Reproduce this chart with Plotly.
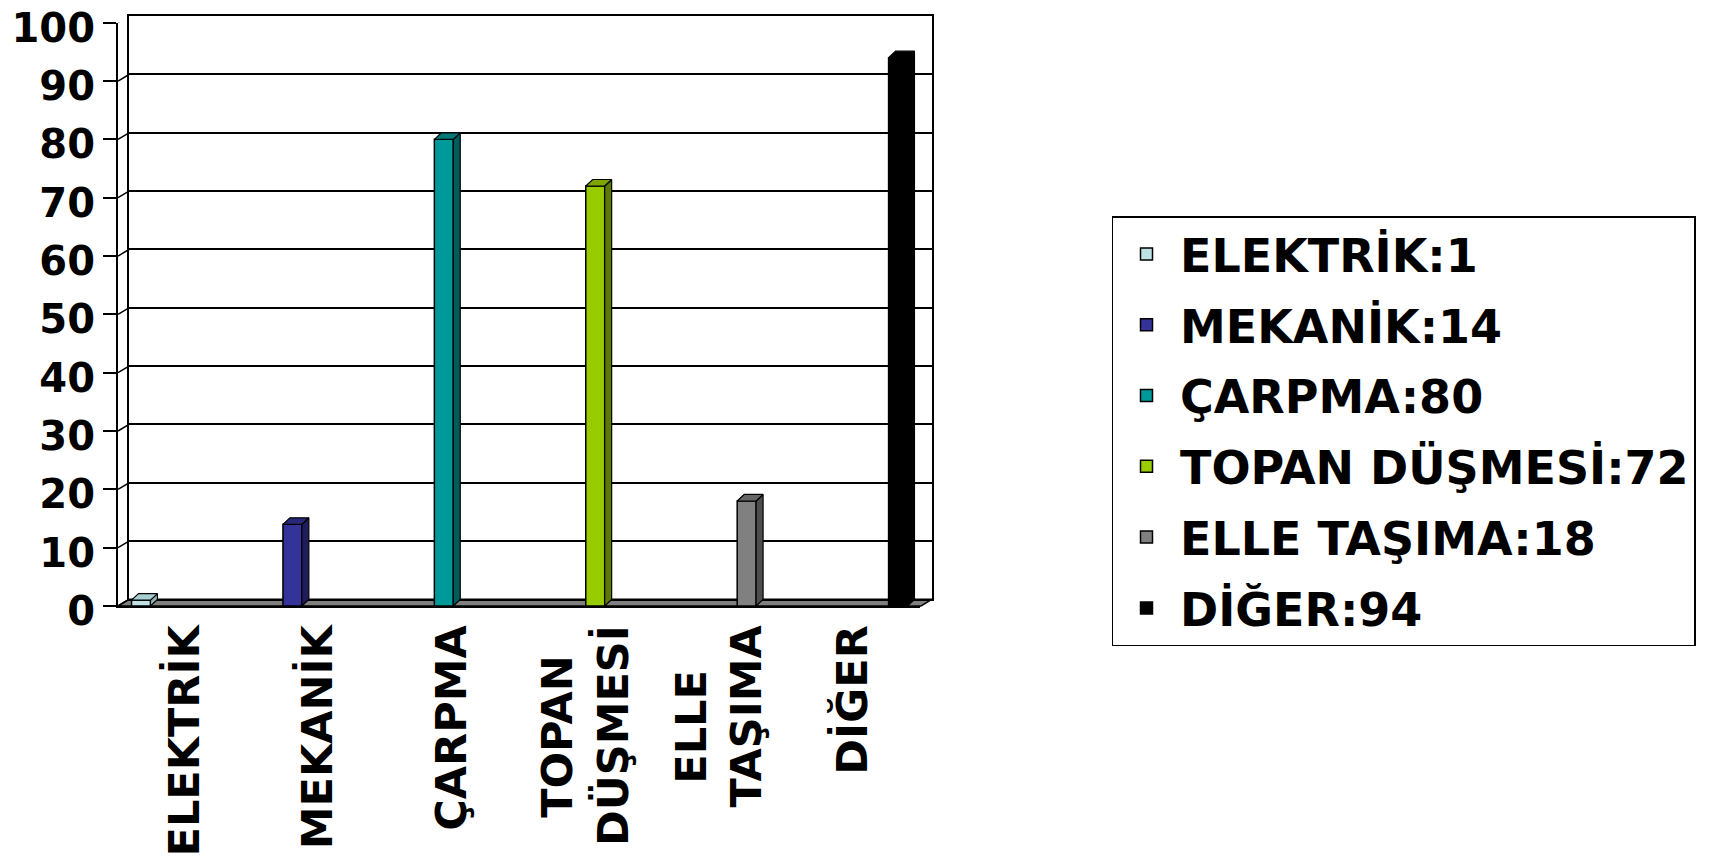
import plotly.graph_objects as go

# ---- data ----
categories = ["ELEKTRİK", "MEKANİK", "ÇARPMA", "TOPAN DÜŞMESİ", "ELLE TAŞIMA", "DİĞER"]
values = [1, 14, 80, 72, 18, 94]
tick_labels = ["ELEKTRİK", "MEKANİK", "ÇARPMA", "TOPAN\u00a0\u00a0<br>DÜŞMESİ",
               "ELLE\u00a0\u00a0\u00a0<br>TAŞIMA", "DİĞER"]
y_ticks = [0, 10, 20, 30, 40, 50, 60, 70, 80, 90, 100]

# ---- style ----
front_colors = ["#BFE3E5", "#333399", "#009999", "#99CC00", "#808080", "#000000"]
side_colors = ["#8CB4B6", "#1E1E5C", "#005C5C", "#5C7A00", "#4D4D4D", "#000000"]
top_colors = ["#A6CFD2", "#28287A", "#007878", "#7FA600", "#666666", "#000000"]
FONT = "DejaVu Sans, Liberation Sans, sans-serif"
W, H = 1729, 866
BAR_W = 0.125     # front face width (x3 units)
DX = 0.046        # depth offset in x (x3 units)
DY = 1.12         # depth offset in y (value units)

def px(x):
    return x / W

def py(y):
    return 1 - y / H

fig = go.Figure()

# empty traces so that the wall and front subplots exist
fig.add_trace(go.Scatter(x=[], y=[], xaxis="x", yaxis="y", showlegend=False, hoverinfo="skip"))
fig.add_trace(go.Scatter(x=[], y=[], xaxis="x2", yaxis="y2", showlegend=False, hoverinfo="skip"))

for i, (cat, val) in enumerate(zip(categories, values)):
    # front face: the real bar
    fig.add_trace(go.Bar(
        x=[i], y=[val], width=BAR_W, name=f"{cat}:{val}",
        legendgroup=cat,
        marker=dict(color=front_colors[i], line=dict(color="black", width=1.5)),
        xaxis="x3", yaxis="y2", hoverinfo="name",
    ))
    xl, xr = i - BAR_W / 2, i + BAR_W / 2
    # side face
    fig.add_trace(go.Scatter(
        x=[xr, xr + DX, xr + DX, xr, xr], y=[0, DY, val + DY, val, 0],
        fill="toself", fillcolor=side_colors[i], mode="lines",
        line=dict(color="black", width=1.2), showlegend=False,
        legendgroup=cat, hoverinfo="skip", xaxis="x3", yaxis="y2",
    ))
    # top face
    fig.add_trace(go.Scatter(
        x=[xl, xl + DX, xr + DX, xr, xl], y=[val, val + DY, val + DY, val, val],
        fill="toself", fillcolor=top_colors[i], mode="lines",
        line=dict(color="black", width=1.2), showlegend=False,
        legendgroup=cat, hoverinfo="skip", xaxis="x3", yaxis="y2",
    ))

shapes = [
    # floor
    dict(type="path", xref="paper", yref="paper",
         path=f"M {px(118)},{py(606)} L {px(129)},{py(599.3)} L {px(932)},{py(599.3)} L {px(921)},{py(606)} Z",
         fillcolor="#808080", line=dict(color="black", width=1.5), layer="below"),
]
# connectors from front axis ticks to back wall
for t in y_ticks:
    shapes.append(dict(type="line", xref="paper", yref="y2",
                       x0=px(118), x1=px(129), y0=t, y1=t + DY,
                       line=dict(color="black", width=1.5)))

fig.update_layout(
    width=W, height=H,
    margin=dict(l=0, r=0, t=0, b=0, autoexpand=False),
    paper_bgcolor="white", plot_bgcolor="rgba(0,0,0,0)",
    barmode="overlay",
    font=dict(family=FONT, color="black", weight="bold"),
    # back wall
    xaxis=dict(domain=[px(129), px(932)], range=[0, 1], anchor="y",
               showgrid=False, showticklabels=False, ticks="",
               showline=True, mirror=True, linecolor="black", linewidth=1.5,
               zeroline=False, fixedrange=True, automargin=False),
    yaxis=dict(domain=[py(599.3), py(16)], range=[0, 100], anchor="x",
               dtick=10, showgrid=True, gridcolor="black", gridwidth=1.5,
               showticklabels=False, ticks="", showline=True, mirror=True,
               linecolor="black", linewidth=1.5, zeroline=False, fixedrange=True,
               automargin=False),
    # front axes with labels
    xaxis2=dict(domain=[px(118), px(920)], range=[-0.5, 5.5], anchor="y2",
                tickmode="array", tickvals=list(range(len(categories))), ticktext=tick_labels,
                tickangle=-90, tickfont=dict(size=43, family=FONT, color="black", weight="bold"),
                ticklabeloverflow="allow",
                showgrid=False, zeroline=False, showline=True, linecolor="black", linewidth=2,
                ticks="", fixedrange=True, automargin=False),
    yaxis2=dict(domain=[py(606), py(22.7)], range=[0, 100], anchor="x2",
                tickmode="array", tickvals=y_ticks,
                tickfont=dict(size=40, family=FONT, color="black", weight="bold"),
                ticklabeloverflow="allow", ticklabelshift=5,
                ticks="outside", ticklen=13, tickwidth=2, tickcolor="black",
                showgrid=False, zeroline=False, showline=True, linecolor="black", linewidth=2,
                fixedrange=True, automargin=False),
    xaxis3=dict(overlaying="x2", anchor="y2", range=[-0.152, 5.145], visible=False,
                fixedrange=True, automargin=False),
    legend=dict(x=px(1111.5), y=py(216), xanchor="left", yanchor="top",
                bordercolor="black", borderwidth=1.5, bgcolor="white",
                font=dict(size=46, family=FONT, color="black", weight="bold"),
                itemwidth=57, tracegroupgap=8, traceorder="grouped"),
    shapes=shapes,
)

fig.write_html("out.html", config={"displayModeBar": False},
               post_script="document.body.style.margin='0px';")
